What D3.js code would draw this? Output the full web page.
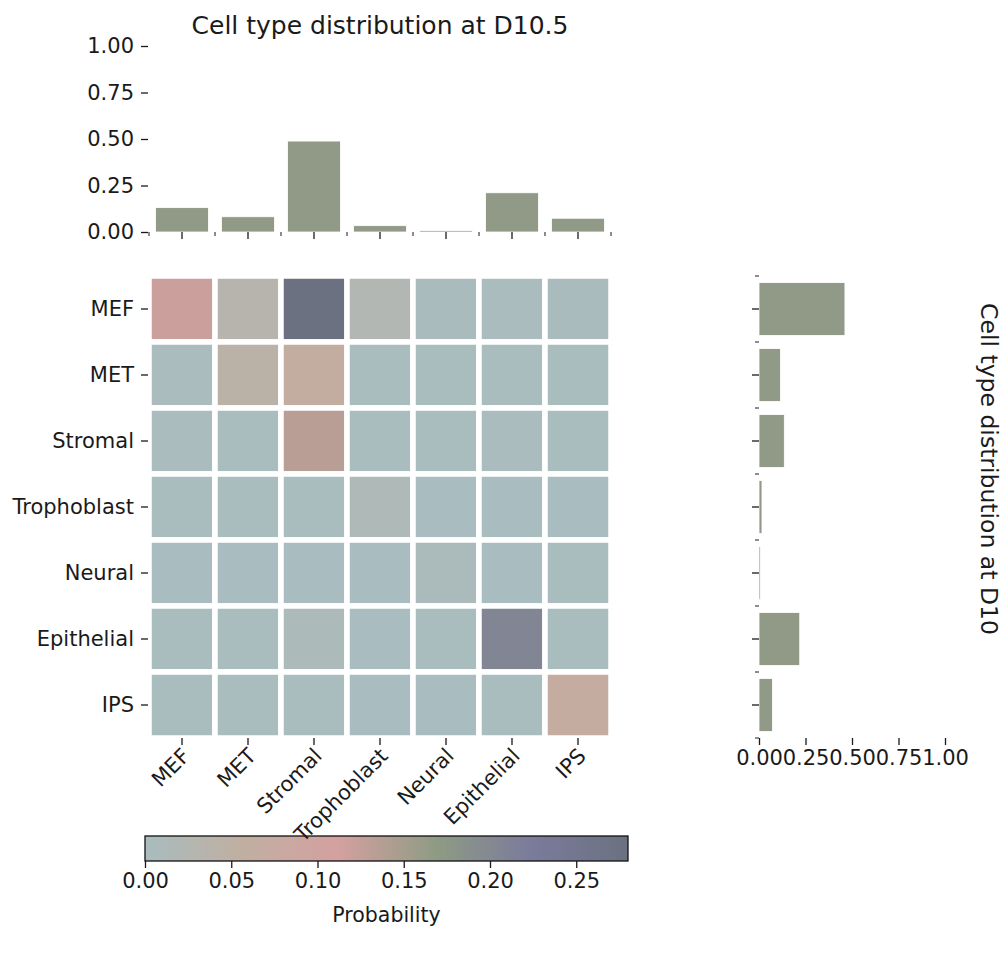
<!DOCTYPE html>
<html>
<head>
<meta charset="utf-8">
<script src="https://cdn.jsdelivr.net/npm/d3@7"></script>
<style>
  html, body { margin: 0; padding: 0; background: #fff; }
  svg { display: block; }
  text { font-family: "DejaVu Sans", sans-serif; fill: #1a1a1a; }
</style>
</head>
<body>
<svg id="chart" width="1008" height="953"></svg>
<script>
// Cell types at D10 (rows) and D10.5 (columns)
const cellTypes = ["MEF", "MET", "Stromal", "Trophoblast", "Neural", "Epithelial", "IPS"];

// Joint transition probabilities, row = D10 type, column = D10.5 type
const probMEF         = [0.120, 0.033, 0.280, 0.021, 0.003, 0.002, 0.003];
const probMET         = [0.002, 0.044, 0.065, 0.001, 0.001, 0.001, 0.001];
const probStromal     = [0.002, 0.001, 0.134, 0.001, 0.001, 0.002, 0.001];
const probTrophoblast = [0.001, 0.001, 0.001, 0.013, 0.000, 0.000, 0.000];
const probNeural      = [0.000, 0.000, 0.000, 0.000, 0.006, 0.000, 0.001];
const probEpithelial  = [0.001, 0.001, 0.010, 0.000, 0.001, 0.205, 0.001];
const probIPS         = [0.001, 0.001, 0.001, 0.000, 0.000, 0.001, 0.068];
const probRows = [probMEF, probMET, probStromal, probTrophoblast, probNeural, probEpithelial, probIPS];

// Marginal distributions
const shareD105 = [0.131, 0.082, 0.489, 0.034, 0.008, 0.211, 0.074];
const shareD10  = [0.462, 0.115, 0.136, 0.016, 0.007, 0.219, 0.072];

// Axis ticks
const shareTicks = [0, 0.25, 0.5, 0.75, 1.0];
const probTicks = [0, 0.05, 0.10, 0.15, 0.20, 0.25];
const probMax = 0.28;

// Colormap anchors, evenly spaced from 0 to probMax
const cmapColors = ["#a9bcbf", "#c0afa1", "#d4a0a0", "#8f9b84", "#7b7b9c", "#6b7180"];

const svg = d3.select("#chart");
const fmt2 = d3.format(".2f");
const tickColor = "#1a1a1a";
const barColor = "#909a86";
const tickFont = 21;

// ---- Layout scales ----
const xCell = d3.scaleBand().domain(cellTypes).range([149, 611]);
const yCell = d3.scaleBand().domain(cellTypes).range([276, 738]);
const xBar = d3.scaleBand().domain(cellTypes).range([149, 611]).paddingInner(0.2).paddingOuter(0.1);
const yBar = d3.scaleBand().domain(cellTypes).range([276, 738]).paddingInner(0.2).paddingOuter(0.1);
const yTop = d3.scaleLinear().domain([0, 1]).range([232, 46]);
const xRight = d3.scaleLinear().domain([0, 1]).range([759, 945]);
const color = d3.scaleLinear()
  .domain(cmapColors.map((c, i) => i * probMax / (cmapColors.length - 1)))
  .range(cmapColors)
  .interpolate(d3.interpolateRgb)
  .clamp(true);
const xCbar = d3.scaleLinear().domain([0, probMax]).range([145, 628]);

// ---- Colour bar (drawn first so the rotated column labels sit above it) ----
const defs = svg.append("defs");
const grad = defs.append("linearGradient").attr("id", "probGrad")
  .attr("x1", "0%").attr("x2", "100%").attr("y1", "0%").attr("y2", "0%");
grad.selectAll("stop").data(d3.range(0, 1.0001, 0.02)).join("stop")
  .attr("offset", d => `${d * 100}%`)
  .attr("stop-color", d => color(d * probMax));

svg.append("rect")
  .attr("x", xCbar(0)).attr("y", 836)
  .attr("width", xCbar(probMax) - xCbar(0)).attr("height", 25)
  .attr("fill", "url(#probGrad)")
  .attr("stroke", "#111").attr("stroke-width", 1.3);

const cbarAxis = svg.append("g").attr("transform", "translate(0,861)")
  .call(d3.axisBottom(xCbar).tickValues(probTicks).tickFormat(fmt2).tickSize(7).tickPadding(5));
cbarAxis.select(".domain").remove();
cbarAxis.selectAll("line").attr("stroke", tickColor).attr("stroke-width", 1.3);
cbarAxis.selectAll("text").attr("font-size", tickFont).attr("font-family", "DejaVu Sans");

svg.append("text")
  .attr("x", (xCbar(0) + xCbar(probMax)) / 2).attr("y", 922)
  .attr("text-anchor", "middle")
  .attr("font-size", 20.5)
  .text("Probability");

// ---- Heatmap ----
const cells = [];
probRows.forEach((row, i) => row.forEach((v, j) => cells.push({ r: cellTypes[i], c: cellTypes[j], v })));

svg.append("g").selectAll("rect").data(cells).join("rect")
  .attr("x", d => xCell(d.c))
  .attr("y", d => yCell(d.r))
  .attr("width", xCell.bandwidth())
  .attr("height", yCell.bandwidth())
  .attr("fill", d => color(d.v))
  .attr("stroke", "#fff")
  .attr("stroke-width", 5.5);

// heatmap y axis
const yAxisHeat = svg.append("g").attr("transform", "translate(148,0)")
  .call(d3.axisLeft(yCell).tickSize(7).tickPadding(7));
yAxisHeat.select(".domain").remove();
yAxisHeat.selectAll("line").attr("stroke", tickColor).attr("stroke-width", 1.3);
yAxisHeat.selectAll("text").attr("font-size", tickFont).attr("font-family", "DejaVu Sans");

// heatmap x axis with rotated labels
const xAxisHeat = svg.append("g").attr("transform", "translate(0,738)")
  .call(d3.axisBottom(xCell).tickSize(7).tickFormat(""));
xAxisHeat.select(".domain").remove();
xAxisHeat.selectAll("line").attr("stroke", tickColor).attr("stroke-width", 1.3);
svg.append("g").selectAll("text").data(cellTypes).join("text")
  .attr("transform", d => `translate(${xCell(d) + xCell.bandwidth() / 2 + 4},${752}) rotate(-45)`)
  .attr("text-anchor", "end")
  .attr("dy", "0.35em")
  .attr("font-size", tickFont)
  .text(d => d);

// ---- Top marginal bars (D10.5) ----
svg.append("g").selectAll("rect").data(shareD105).join("rect")
  .attr("x", (d, i) => xBar(cellTypes[i]))
  .attr("y", d => yTop(d))
  .attr("width", xBar.bandwidth())
  .attr("height", d => yTop(0) - yTop(d))
  .attr("fill", barColor)
  .attr("stroke", "#fff")
  .attr("stroke-width", 0.8);

const yAxisTop = svg.append("g").attr("transform", "translate(148,0)")
  .call(d3.axisLeft(yTop).tickValues(shareTicks).tickFormat(fmt2).tickSize(7).tickPadding(7));
yAxisTop.select(".domain").remove();
yAxisTop.selectAll("line").attr("stroke", tickColor).attr("stroke-width", 1.3);
yAxisTop.selectAll("text").attr("font-size", tickFont).attr("font-family", "DejaVu Sans");

// major ticks under bars, minor ticks on band edges
const topTicks = svg.append("g").attr("transform", `translate(0,${yTop(0)})`);
topTicks.append("g").call(d3.axisBottom(xCell).tickSize(7).tickFormat(""))
  .call(g => g.select(".domain").remove())
  .selectAll("line").attr("stroke", tickColor).attr("stroke-width", 1.3);
const bandEdges = cellTypes.map(c => xCell(c)).concat([xCell.range()[1]]);
topTicks.append("g").selectAll("line").data(bandEdges).join("line")
  .attr("x1", d => d).attr("x2", d => d).attr("y1", 0).attr("y2", 4)
  .attr("stroke", tickColor).attr("stroke-width", 1);

svg.append("text")
  .attr("x", 380).attr("y", 34)
  .attr("text-anchor", "middle")
  .attr("font-size", 25)
  .text("Cell type distribution at D10.5");

// ---- Right marginal bars (D10) ----
svg.append("g").selectAll("rect").data(shareD10).join("rect")
  .attr("x", xRight(0))
  .attr("y", (d, i) => yBar(cellTypes[i]))
  .attr("width", d => xRight(d) - xRight(0))
  .attr("height", yBar.bandwidth())
  .attr("fill", barColor)
  .attr("stroke", "#fff")
  .attr("stroke-width", 0.8);

const rightTicks = svg.append("g").attr("transform", `translate(${xRight(0)},0)`);
rightTicks.append("g").call(d3.axisLeft(yCell).tickSize(7).tickFormat(""))
  .call(g => g.select(".domain").remove())
  .selectAll("line").attr("stroke", tickColor).attr("stroke-width", 1.3);
const rowEdges = cellTypes.map(c => yCell(c)).concat([yCell.range()[1]]);
rightTicks.append("g").selectAll("line").data(rowEdges).join("line")
  .attr("y1", d => d).attr("y2", d => d).attr("x1", 0).attr("x2", -4)
  .attr("stroke", tickColor).attr("stroke-width", 1);

const xAxisRight = svg.append("g").attr("transform", "translate(0,738)")
  .call(d3.axisBottom(xRight).tickValues(shareTicks).tickFormat(fmt2).tickSize(7).tickPadding(5));
xAxisRight.select(".domain").remove();
xAxisRight.selectAll("line").attr("stroke", tickColor).attr("stroke-width", 1.3);
xAxisRight.selectAll("text").attr("font-size", tickFont).attr("font-family", "DejaVu Sans");

svg.append("text")
  .attr("transform", "translate(981,469) rotate(90)")
  .attr("text-anchor", "middle")
  .attr("font-size", 23.5)
  .text("Cell type distribution at D10");
</script>
</body>
</html>
